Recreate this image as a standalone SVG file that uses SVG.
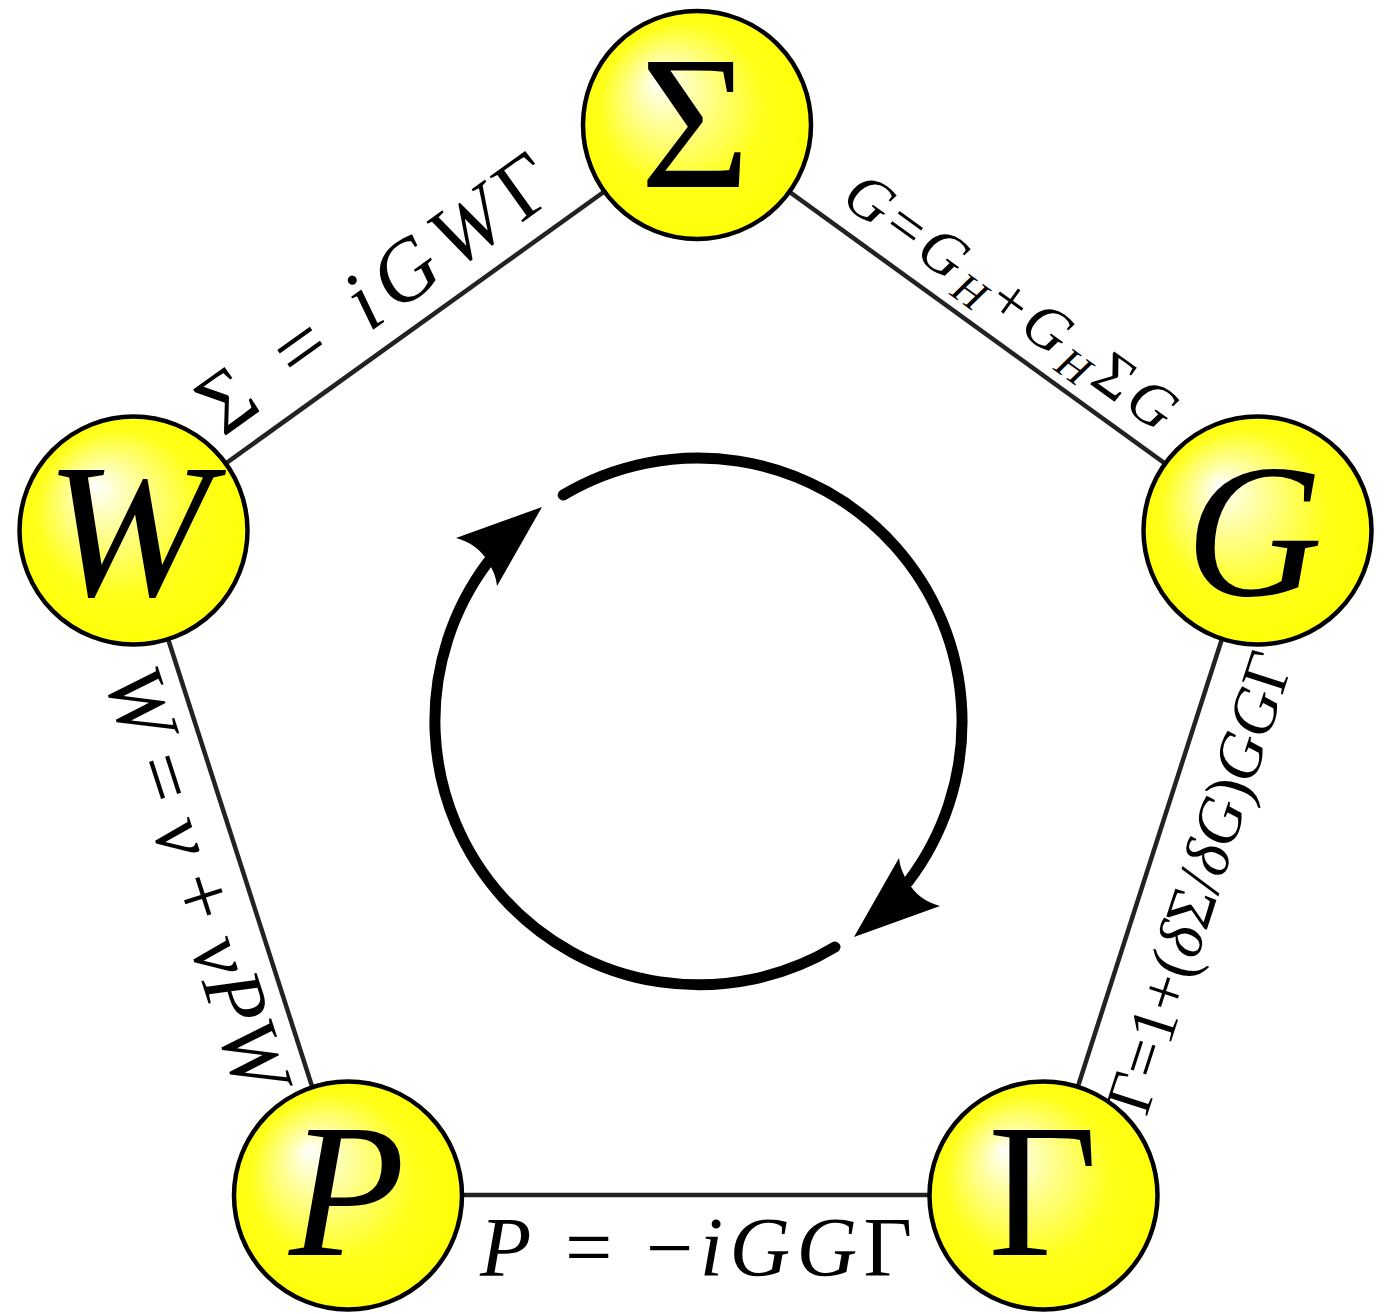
<svg xmlns="http://www.w3.org/2000/svg" width="1390" height="1314" viewBox="0 0 1390 1314">
<style>
text{font-family:"Liberation Serif","DejaVu Serif",serif;fill:#000}
.it{font-style:italic}
.edge{stroke:#222;stroke-width:4.5;fill:none}
.node circle{fill:url(#ball);stroke:#000;stroke-width:4.5}
.sym{font-size:190px;text-anchor:middle}
.cyc{stroke:#000;stroke-width:11;fill:none;stroke-linecap:round}
</style>
<defs>
<radialGradient id="ball" cx="0.5" cy="0.5" r="0.6" fx="0.33" fy="0.3">
<stop offset="0" stop-color="#ffffff"/>
<stop offset="0.25" stop-color="#ffff99"/>
<stop offset="0.6" stop-color="#ffff1a"/>
<stop offset="1" stop-color="#ffff00"/>
</radialGradient>
</defs>
<g id="connectors">
<line class="edge" x1="697" y1="125" x2="133" y2="530"/>
<line class="edge" x1="697" y1="125" x2="1257" y2="530"/>
<line class="edge" x1="1257" y1="530" x2="1043" y2="1195"/>
<line class="edge" x1="133" y1="530" x2="347" y2="1195"/>
<line class="edge" x1="347" y1="1195" x2="1043" y2="1195"/>
</g>
<g id="edge-labels">
<text transform="translate(392,316) rotate(-35.7)" text-anchor="middle" font-size="86" textLength="416" lengthAdjust="spacing">Σ = <tspan class="it">iGW</tspan>Γ</text>
<text transform="translate(999,318) rotate(35.88)" text-anchor="middle" font-size="62" textLength="394" lengthAdjust="spacing"><tspan class="it">G</tspan>=<tspan class="it">G</tspan><tspan class="it" font-size="43" dy="10">H</tspan><tspan dy="-10">+</tspan><tspan class="it">G</tspan><tspan class="it" font-size="43" dy="10">H</tspan><tspan dy="-10">Σ</tspan><tspan class="it">G</tspan></text>
<text transform="translate(1220,889) rotate(-72.16)" text-anchor="middle" font-size="65" textLength="480" lengthAdjust="spacing">Γ=1+(<tspan class="it">δ</tspan>Σ/<tspan class="it">δG</tspan>)<tspan class="it">GG</tspan>Γ</text>
<text transform="translate(171,887) rotate(72.16)" text-anchor="middle" font-size="84" textLength="440" lengthAdjust="spacing"><tspan class="it">W</tspan> = <tspan class="it">v</tspan> + <tspan class="it">vPW</tspan></text>
<text x="696" y="1276" text-anchor="middle" font-size="84" textLength="432" lengthAdjust="spacing"><tspan class="it">P</tspan> = −<tspan class="it">iGG</tspan>Γ</text>
</g>
<g id="cycle">
<path class="cyc" d="M563.2 495 A264 264 0 0 1 908 882"/>
<path d="M854 937 L940 906 Q918 900 908 882 Q900 870 899 858 Z" fill="#000"/>
<path class="cyc" d="M835 947 A264 264 0 0 1 488 562"/>
<path d="M542 507 L456 538 Q478 544 488 562 Q496 574 497 586 Z" fill="#000"/>
</g>
<g id="node-sigma" class="node"><circle cx="697" cy="125" r="114"/><text class="sym" x="695" y="187" textLength="110" lengthAdjust="spacingAndGlyphs">Σ</text></g>
<g id="node-W" class="node"><circle cx="133.5" cy="530.5" r="114"/><text class="sym it" x="128" y="595" textLength="166" lengthAdjust="spacingAndGlyphs">W</text></g>
<g id="node-G" class="node"><circle cx="1257.5" cy="530.5" r="114"/><text class="sym it" x="1254" y="595">G</text></g>
<g id="node-P" class="node"><circle cx="348" cy="1195.5" r="114"/><text class="sym it" x="347" y="1255">P</text></g>
<g id="node-Gamma" class="node"><circle cx="1043.5" cy="1195.5" r="114"/><text class="sym" x="1043" y="1255">Γ</text></g>
</svg>
